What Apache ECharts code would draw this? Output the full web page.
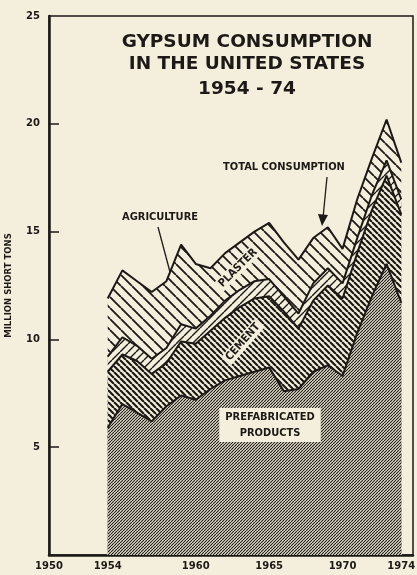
<!DOCTYPE html>
<html>
<head>
<meta charset="utf-8">
<script src="https://cdn.jsdelivr.net/npm/echarts@6/dist/echarts.min.js"></script>
<style>
html,body{margin:0;padding:0;background:#f4efdc;}
#chart{width:417px;height:575px;}
</style>
</head>
<body>
<div id="chart"></div>
<script>
// ---- data (million short tons) ----
const years = [1954,1955,1956,1957,1958,1959,1960,1961,1962,1963,1964,1965,1966,1967,1968,1969,1970,1971,1972,1973,1974];
const prefabricated = [5.9,7.0,6.6,6.2,6.9,7.4,7.2,7.7,8.1,8.3,8.5,8.7,7.6,7.7,8.5,8.8,8.3,10.3,12.0,13.5,11.7];
const cement        = [2.6,2.3,2.4,2.2,2.0,2.5,2.6,2.7,2.9,3.2,3.4,3.3,3.7,2.8,3.3,3.7,3.6,3.7,4.0,4.1,4.1];
const agriculture   = [0.7,0.8,0.7,0.7,0.7,0.8,0.7,0.7,0.8,0.8,0.8,0.8,0.7,0.7,0.8,0.8,0.7,0.7,0.7,0.7,0.7];
const plaster       = [2.7,3.1,3.0,3.1,3.1,3.7,3.0,2.2,2.2,2.2,2.3,2.6,2.5,2.5,2.1,1.9,1.6,1.8,1.7,1.9,1.7];
const xLabelYears = [1950,1954,1960,1965,1970,1974];
const xTickYears = [1960,1965,1970];
const yLabels = [5,10,15,20,25];
const yTickValues = [5,10,15,20];

const INK = '#1d1916';
const PAPER = '#f4efdc';

function hatch(size, width, dir, bg) {
  const c = document.createElement('canvas');
  c.width = size; c.height = size;
  const g = c.getContext('2d');
  g.fillStyle = bg || PAPER;
  g.fillRect(0,0,size,size);
  g.strokeStyle = INK;
  g.lineWidth = width;
  g.beginPath();
  for (let k = -1; k <= 1; k++) {
    if (dir === '/') { g.moveTo(k*size, size); g.lineTo(k*size+size, 0); }
    else { g.moveTo(k*size, 0); g.lineTo(k*size+size, size); }
  }
  g.stroke();
  return {image: c, repeat: 'repeat'};
}

// cumulative tops (layers drawn back to front, each filling to baseline)
const cum = [];
let run = years.map(() => 0);
[prefabricated, cement, agriculture, plaster].forEach(arr => {
  run = run.map((v,i) => +(v + arr[i]).toFixed(2));
  cum.push(run.slice());
});
const pts = arr => years.map((y,i) => [y, arr[i]]);

const layers = [
  {name:'Plaster', top: cum[3], fill: hatch(11, 1.8, '\\')},
  {name:'Agriculture', top: cum[2], fill: hatch(8, 1.4, '/')},
  {name:'Cement', top: cum[1], fill: hatch(6, 2.2, '\\')},
  {name:'Prefabricated products', top: cum[0], fill: hatch(3, 1.15, '/')}
];

const chart = echarts.init(document.getElementById('chart'), null, {renderer:'canvas'});
const bold = {fontFamily:'DejaVu Sans', fontWeight:'bold', color: INK};
const lbl = 'bold 11px "DejaVu Sans Condensed"';

chart.setOption({
  backgroundColor: PAPER,
  animation: false,
  grid: {left: 49, right: 4, top: 16, bottom: 20, outerBoundsMode: 'none', containLabel: false,
         show: true, borderColor: INK, borderWidth: 1.5, backgroundColor: 'transparent'},
  xAxis: {
    type: 'value', min: 1950, max: 1974.8,
    axisLine: {show: true, lineStyle: {color: INK, width: 2.5}},
    axisTick: {show: true, inside: true, length: 5, customValues: xTickYears, lineStyle: {color: INK, width: 1.2}},
    axisLabel: {customValues: xLabelYears, margin: 6, fontSize: 10, formatter: v => String(v), ...bold},
    splitLine: {show: false}
  },
  yAxis: {
    type: 'value', min: 0, max: 25, interval: 5,
    name: 'MILLION SHORT TONS', nameLocation: 'middle', nameRotate: 90, nameGap: 36,
    nameTextStyle: {fontSize: 8.5, ...bold},
    axisLine: {show: true, lineStyle: {color: INK, width: 2.5}},
    axisTick: {show: true, inside: true, length: 10, customValues: yTickValues, lineStyle: {color: INK, width: 1.5}},
    axisLabel: {customValues: yLabels, margin: 9, fontSize: 10, formatter: v => String(v), ...bold},
    splitLine: {show: false}
  },
  series: layers.map(l => ({
    name: l.name, type: 'line', data: pts(l.top), symbol: 'none',
    lineStyle: {color: INK, width: 2}, areaStyle: {color: l.fill, opacity: 1}
  })),
  graphic: [
    {type:'text', z: 100, x: 247, y: 31, style:{text:'GYPSUM CONSUMPTION\nIN THE UNITED STATES', textAlign:'center', font:'bold 18.5px "DejaVu Sans"', fill: INK, lineHeight: 22}},
    {type:'text', z: 100, x: 247, y: 80, style:{text:'1954 - 74', textAlign:'center', font:'bold 18.5px "DejaVu Sans"', fill: INK}},
    {type:'text', z: 100, x: 284, y: 162, style:{text:'TOTAL CONSUMPTION', textAlign:'center', font: lbl, fill: INK}},
    {type:'line', z: 100, shape:{x1: 327, y1: 177, x2: 323, y2: 218}, style:{stroke: INK, lineWidth: 1.3}},
    {type:'polygon', z: 100, shape:{points:[[318,214],[328,215],[322,226]]}, style:{fill: INK}},
    {type:'text', z: 100, x: 160, y: 212, style:{text:'AGRICULTURE', textAlign:'center', font: lbl, fill: INK}},
    {type:'line', z: 100, shape:{x1: 158, y1: 227, x2: 170, y2: 272}, style:{stroke: INK, lineWidth: 1.3}},
    {type:'text', z: 100, x: 238, y: 268, rotation: Math.PI/4, style:{text:'PLASTER', align:'center', verticalAlign:'middle', font: lbl, fill: INK, backgroundColor: PAPER, padding:[1,2]}},
    {type:'text', z: 100, x: 243, y: 342, rotation: Math.PI*0.27, style:{text:'CEMENT', align:'center', verticalAlign:'middle', font: lbl, fill: INK, backgroundColor: PAPER, padding:[1,2]}},
    {type:'text', z: 100, x: 270, y: 425, style:{text:'PREFABRICATED\nPRODUCTS', align:'center', verticalAlign:'middle', font: lbl, fill: INK, lineHeight: 16, backgroundColor: PAPER, padding:[1,6]}}
  ]
});
</script>
</body>
</html>
